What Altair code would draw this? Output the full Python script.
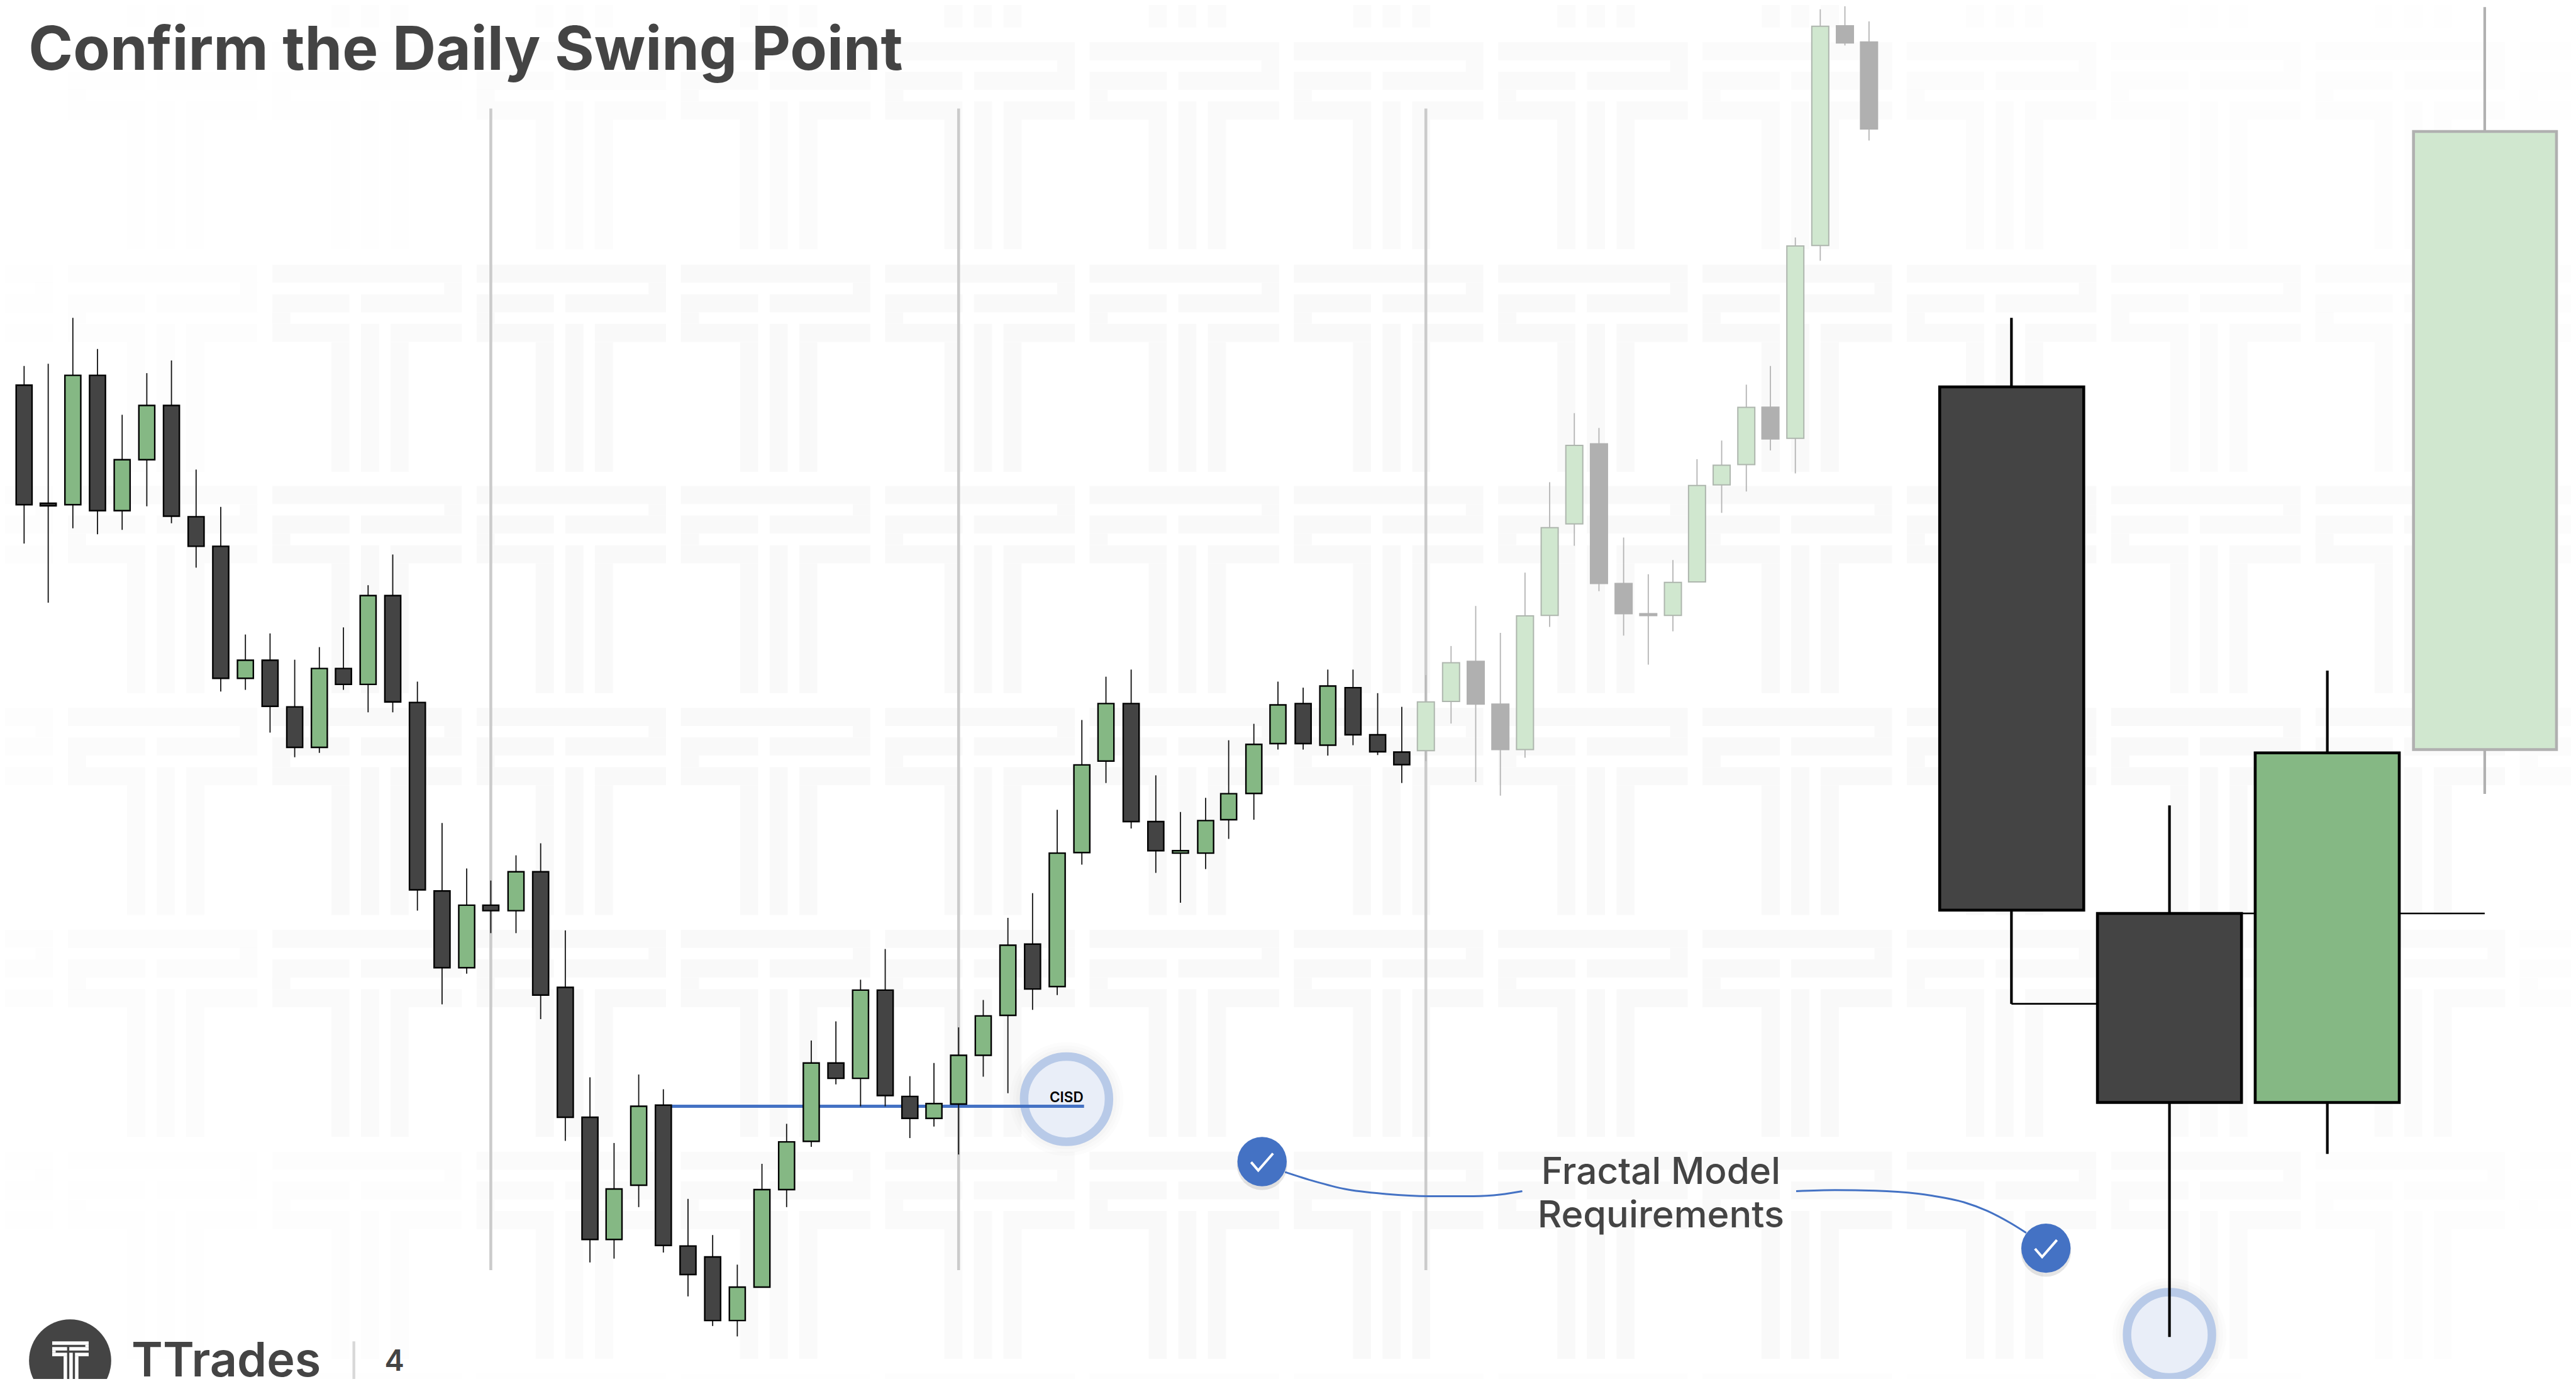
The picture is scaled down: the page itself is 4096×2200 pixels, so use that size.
import altair as alt
import pandas as pd

REF_W, REF_H = 4702, 2525
SCALE = 0.871
MARGIN = 8
W, H = 4080, 2184

# Candles: x, body top, body bottom, wick top, wick bottom, colour key ("d" dark, "g" green)
bar_x = [44, 88, 133, 178, 223, 268, 313, 358, 403, 448, 493, 538, 583, 627, 672, 717, 762,
         807, 852, 896, 942, 987, 1032, 1077, 1121, 1166, 1211, 1256, 1301, 1346, 1391, 1436, 1481,
         1526, 1571, 1616, 1661, 1705, 1750, 1795, 1840, 1885, 1930, 1975, 2019, 2065, 2110, 2155,
         2201, 2243, 2289, 2333, 2379, 2424, 2470, 2515, 2559]
body_top = [703, 918.5, 685, 685, 839, 740, 740, 943, 997, 1205, 1205, 1290, 1220, 1220, 1087, 1087, 1282,
            1626, 1652, 1652, 1591, 1591, 1802, 2039, 2170, 2019, 2017, 2274, 2294, 2349, 2171, 2084, 1940,
            1940, 1807, 1807, 2001, 2014, 1926, 1854, 1725, 1723, 1557, 1396, 1284, 1284, 1499.5, 1552.5,
            1497.6, 1448.5, 1358.5, 1286.5, 1284, 1252, 1255, 1341, 1372.6]
body_bot = [921, 923, 921, 932, 932, 839, 942, 997, 1238, 1238, 1289, 1364, 1364, 1249, 1249, 1281, 1624,
            1766, 1766, 1662, 1662, 1816, 2039, 2262, 2262, 2163, 2273, 2326, 2410, 2410, 2349, 2171, 2083,
            1968, 1968, 1999.5, 2041, 2041, 2015, 1926, 1853, 1805, 1800.6, 1556, 1389, 1499.5, 1552.5, 1557,
            1557, 1496, 1448, 1357, 1357, 1360, 1341, 1372, 1395.5]
wick_top = [668, 664, 580, 637, 757, 681, 658, 857, 925, 1158, 1156, 1204, 1181, 1145, 1068, 1012, 1244,
            1502, 1585, 1607, 1561, 1539, 1698, 1966, 2086, 1961, 1988, 2188, 2254, 2308, 2124, 2051, 1899,
            1864, 1788, 1732, 1964, 1940, 1875, 1825, 1675, 1630, 1478, 1314, 1235, 1222, 1415, 1482,
            1456, 1351, 1321, 1244, 1255, 1222, 1222, 1265, 1290]
wick_bot = [992, 1100, 964, 975, 967, 924, 955, 1036, 1262, 1259, 1337, 1382, 1374, 1259, 1300, 1300, 1662,
            1833, 1777, 1703, 1703, 1860, 2082, 2304, 2297, 2203, 2286, 2366, 2420, 2439, 2349, 2203, 2093,
            1979, 2019, 2019, 2077, 2056, 2107, 1965, 1995, 1843, 1816, 1578, 1429, 1512, 1593, 1647.5,
            1586, 1531, 1496, 1368, 1368, 1379, 1360, 1378, 1429]
bar_kind = ["d", "d", "g", "d", "g", "g", "d", "d", "d", "g", "d", "d", "g", "d", "g", "d", "d",
            "d", "g", "d", "g", "d", "d", "d", "g", "g", "d", "d", "d", "g", "g", "g", "g",
            "d", "g", "d", "d", "g", "g", "g", "g", "d", "g", "g", "g", "d", "d", "g",
            "g", "g", "g", "g", "d", "g", "d", "d", "d"]

# Faded candles after the third session marker
fade_x = [2603, 2649, 2694, 2739, 2784, 2829, 2874, 2919, 2964, 3009, 3054, 3098, 3143, 3188, 3232, 3277.5, 3323, 3368, 3412]
fade_top = [1281, 1209.5, 1207, 1285, 1124, 963, 813, 810, 1065, 1120, 1063, 886, 849, 743.5, 743, 449, 48, 47, 76.5]
fade_bot = [1370, 1280, 1285, 1368, 1368, 1123, 956, 1065, 1120, 1123.5, 1123, 1062, 885, 848, 801, 800, 448, 78.5, 235.4]
fade_wtop = [1232, 1179, 1106, 1155, 1045, 880, 754, 781, 981, 1048, 1022, 838, 804, 702, 668, 433.5, 17, 11.5, 39]
fade_wbot = [1389, 1320.5, 1427, 1452, 1383, 1144, 996, 1079, 1160, 1213, 1152, 1062, 936, 897, 822, 864, 476, 83, 256.5]
fade_kind = ["l", "l", "s", "s", "l", "l", "l", "s", "s", "s", "l", "l", "l", "l", "s", "l", "l", "s", "s"]

# Enlarged candles on the right
big_x0 = [3541, 3829, 4117, 4406]
big_x1 = [3804, 4092, 4380, 4667]
big_top = [706, 1667, 1374, 240]
big_bot = [1661, 2012, 2012, 1368]
big_wx = [3672, 3960.5, 4248.7, 4536]
big_wtop = [580, 1470, 1224, 13]
big_wbot = [1832, 2440, 2106, 1449]
big_kind = ["d", "d", "g", "l"]

# Connector lines between the enlarged candles
conn_x0 = [3672, 4093, 4381]
conn_x1 = [3828, 4116, 4536]
conn_y = [1832, 1667, 1667]

# Session markers
session_x = [896, 1750, 2603]
session_top = 198
session_bot = 2318

# Watermark tile: rectangles in tile units
tile_x0 = [0, 314, 0, 162, 0, 0, 162, 216, 108, 216]
tile_x1 = [346, 346, 141, 346, 33, 141, 195, 346, 141, 249]
tile_y0 = [0, 33, 54, 54, 87, 108, 108, 108, 141, 141]
tile_y1 = [33, 54, 87, 87, 108, 141, 378, 141, 378, 378]
tile_cols = [-249, 124, 497, 870, 1243, 1616, 1989, 2362, 2735, 3108, 3481, 3854, 4227, 4600]
tile_rows = [-328, 77, 483, 887, 1292, 1697, 2102, 2507]
tile_strength = [
    [0, .2, .3, .4, .5, .6, .6, .6, .6, .6, .3, .1, .1, 0],
    [0, .1, .2, .5, .7, .8, .8, .8, .8, .7, .5, .3, .3, .2],
    [.1, .4, .9, 1, 1, 1, 1, 1, 1, 1, .8, .7, .5, .3],
    [.3, .6, 1, 1, 1, 1, 1, 1, 1, 1, 1, .9, .8, .5],
    [.3, .6, 1, 1, 1, 1, 1, 1, 1, 1, 1, 1, .8, .5],
    [.3, .5, .9, 1, 1, 1, 1, 1, 1, 1, .9, .7, .6, .3],
    [.1, .2, .4, .6, .8, .9, 1, 1, 1, 1, .9, .7, .4, .2],
    [0, 0, .1, .1, .2, .3, .3, .3, .3, .3, .2, .1, 0, 0],
]

# Curved callout lines
curve1_x = [2346, 2400, 2455, 2530, 2608, 2690, 2740, 2779]
curve1_y = [2139, 2156, 2170, 2179, 2183, 2183, 2180, 2174]
curve2_x = [3279, 3350, 3424, 3526, 3585, 3628, 3670, 3699]
curve2_y = [2174, 2172, 2173, 2182, 2194, 2210, 2232, 2250]

check_cx = [2304, 3735]
check_cy = [2120, 2278]
check_dx = [-20, -7, 20]
check_dy = [1, 16, -15]

x_scale = alt.Scale(domain=[MARGIN / SCALE, (MARGIN + W) / SCALE], range=[0, W], nice=False, zero=False)
y_scale = alt.Scale(domain=[MARGIN / SCALE, (MARGIN + H) / SCALE], range=[0, H], nice=False, zero=False)
X = lambda f: alt.X(f, type="quantitative", scale=x_scale, axis=None)
Y = lambda f: alt.Y(f, type="quantitative", scale=y_scale, axis=None)

COL = {"d": "#444444", "g": "#85b884", "l": "#d0e7cf", "s": "#b0b0b0"}


def rects(x0, x1, y0, y1, fill, stroke=None, sw=0, opacity=1.0):
    d = pd.DataFrame({"x0": x0, "x1": x1, "y0": y0, "y1": y1})
    kw = dict(fill=fill, opacity=opacity, clip=True)
    if stroke:
        kw.update(stroke=stroke, strokeWidth=sw)
    else:
        kw.update(strokeWidth=0)
    return alt.Chart(d).mark_rect(**kw).encode(x=X("x0"), x2="x1", y=Y("y0"), y2="y1")


def rules(x, y0, y1, color, sw):
    d = pd.DataFrame({"x": x, "y0": y0, "y1": y1})
    return alt.Chart(d).mark_rule(color=color, strokeWidth=sw, clip=True).encode(x=X("x"), y=Y("y0"), y2="y1")


def hrules(x0, x1, y, color, sw):
    d = pd.DataFrame({"x0": x0, "x1": x1, "y": y})
    return alt.Chart(d).mark_rule(color=color, strokeWidth=sw, clip=True).encode(x=X("x0"), x2="x1", y=Y("y"))


def circle(cx, cy, r, fill, stroke=None, sw=0, opacity=1.0):
    # r is in reference pixels; a vega circle of size s has radius sqrt(s)/2
    d = pd.DataFrame({"x": cx, "y": cy})
    kw = dict(shape="circle", size=(2 * r * SCALE) ** 2, fill=fill, opacity=opacity, clip=True, filled=True)
    if stroke:
        kw.update(stroke=stroke, strokeWidth=sw)
    return alt.Chart(d).mark_point(**kw).encode(x=X("x"), y=Y("y"))


def label(text, x, y, size, weight, color="#444444", font="Inter", align="center"):
    d = pd.DataFrame({"x": [x], "y": [y], "t": [text]})
    return alt.Chart(d).mark_text(font=font, fontSize=size, fontWeight=weight, fill=color, align=align,
                                  baseline="alphabetic").encode(x=X("x"), y=Y("y"), text="t:N")


layers = []

# Watermark
wm = []
for ri, ry in enumerate(tile_rows):
    for ci, cx in enumerate(tile_cols):
        s = tile_strength[ri][ci]
        if s == 0:
            continue
        for a, b, c, e in zip(tile_x0, tile_x1, tile_y0, tile_y1):
            wm.append({"x0": cx + a, "x1": cx + b, "y0": ry + c, "y1": ry + e, "s": s})
layers.append(alt.Chart(pd.DataFrame(wm)).mark_rect(fill="#f9f9f9", strokeWidth=0, clip=True).encode(
    x=X("x0"), x2="x1", y=Y("y0"), y2="y1",
    opacity=alt.Opacity("s:Q", scale=None, legend=None)))

# Session markers
layers.append(rules(session_x, [session_top] * 3, [session_bot] * 3, "#cbcbcb", 4.6))

# Ringed circles with a faint shadow
for cx, cy in [(1947, 2006), (3960.5, 2436)]:
    for r, o in [(104, 0.010), (98, 0.012), (92, 0.016)]:
        layers.append(circle([cx], [cy], r, "#000000", opacity=o))
    layers.append(circle([cx], [cy], 77.5, "#e9eef8", "#b8cae8", 13.5))

# Blue level
layers.append(hrules([1211], [1979], [2019], "#4472c4", 4.9))

# Main candles
nb = len(bar_x)
BW = 14.5
for k in ["d", "g"]:
    idx = [i for i in range(nb) if bar_kind[i] == k]
    layers.append(rules([bar_x[i] for i in idx], [wick_top[i] for i in idx], [wick_bot[i] for i in idx], "#111111", 1.8))
for k in ["d", "g"]:
    idx = [i for i in range(nb) if bar_kind[i] == k]
    layers.append(rects([bar_x[i] - BW for i in idx], [bar_x[i] + BW for i in idx],
                        [body_top[i] for i in idx], [body_bot[i] for i in idx], COL[k], "#000000", 2.4))

# Faded candles
nf = len(fade_x)
layers.append(rules(fade_x, fade_wtop, fade_wbot, "#b4b4b4", 1.8))
for k, st in [("l", "#aeb6ae"), ("s", "#b0b0b0")]:
    idx = [i for i in range(nf) if fade_kind[i] == k]
    layers.append(rects([fade_x[i] - 15.5 for i in idx], [fade_x[i] + 15.5 for i in idx],
                        [fade_top[i] for i in idx], [fade_bot[i] for i in idx], COL[k], st, 2.0))

# Enlarged candles
layers.append(hrules(conn_x0, conn_x1, conn_y, "#000000", 2.6))
layers.append(rules(big_wx[:3], big_wtop[:3], big_wbot[:3], "#000000", 4.2))
layers.append(rules(big_wx[3:], big_wtop[3:], big_wbot[3:], "#b0b0b0", 4.2))
for i in range(3):
    layers.append(rects([big_x0[i]], [big_x1[i]], [big_top[i]], [big_bot[i]], COL[big_kind[i]], "#000000", 4.6))
layers.append(rects([big_x0[3]], [big_x1[3]], [big_top[3]], [big_bot[3]], COL["l"], "#b0b0b0", 4.6))

# Callouts
for cxs, cys in [(curve1_x, curve1_y), (curve2_x, curve2_y)]:
    layers.append(alt.Chart(pd.DataFrame({"x": cxs, "y": cys})).mark_line(
        color="#4472c4", strokeWidth=3, interpolate="monotone", clip=True).encode(
        x=X("x"), y=Y("y"), order=alt.Order("x:Q")))
for cx, cy in zip(check_cx, check_cy):
    layers.append(circle([cx], [cy + 6], 46, "#000000", opacity=0.10))
    layers.append(circle([cx], [cy], 45, "#4472c4"))
    ck = pd.DataFrame({"x": [cx + v for v in check_dx], "y": [cy + v for v in check_dy], "o": [0, 1, 2]})
    layers.append(alt.Chart(ck).mark_line(color="#ffffff", strokeWidth=4, clip=True).encode(
        x=X("x"), y=Y("y"), order=alt.Order("o:Q")))

# Footer logo
layers.append(circle([128], [2483], 75, "#444444"))
LS = 0.1925
layers.append(rects([95.3 + LS * v for v in tile_x0], [95.3 + LS * v for v in tile_x1],
                    [2448 + LS * v for v in tile_y0], [2448 + LS * v for v in tile_y1], "#ffffff"))
layers.append(rules([646], [2448], [2518], "#d8d8d8", 4.4))

# Texts
layers.append(label("Confirm the Daily Swing Point", 52, 127, 95.8, 700, align="left"))
layers.append(label("CISD", 1947, 2011, 22.5, 600, color="#000000"))
layers.append(label("Fractal Model", 3032, 2161, 58.5, 500))
layers.append(label("Requirements", 3032, 2240, 59.5, 500))
layers.append(label("TTrades", 240, 2512, 75.5, 600, align="left"))
layers.append(label("4", 720, 2502, 47, 600))

chart = alt.layer(*layers).properties(
    width=W, height=H, padding=0,
    autosize=alt.AutoSizeParams(type="none", contains="content"),
    background="#ffffff",
).configure_view(strokeWidth=0, fill="#ffffff")

chart.save("out.html", embed_options={"renderer": "svg", "actions": False})
